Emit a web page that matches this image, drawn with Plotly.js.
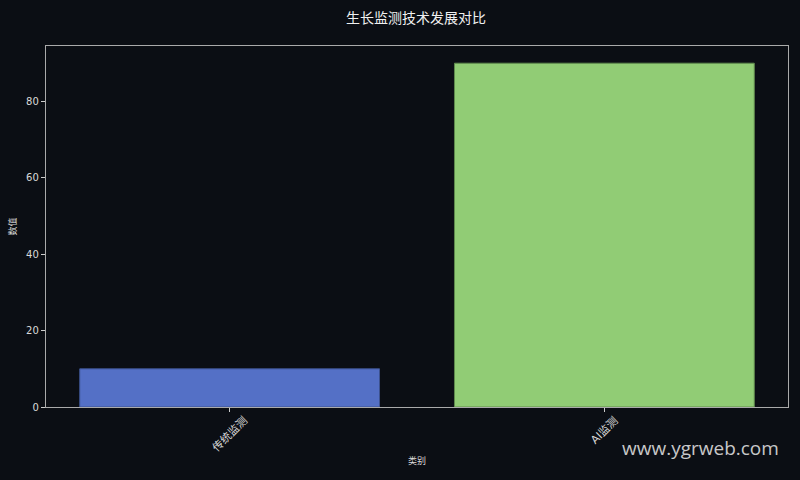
<!DOCTYPE html>
<html>
<head>
<meta charset="utf-8">
<script src="https://cdn.plot.ly/plotly-3.0.1.min.js"></script>
<style>
  html, body { margin: 0; padding: 0; background: #0b0e14; }
  #chart { width: 800px; height: 480px; }
</style>
</head>
<body>
<div id="chart"></div>
<script>
// Chart data
const categories = ["传统监测", "AI监测"];
const values = [10, 90];
const barColors = ["#5470c6", "#91cc75"];
const edgeColors = ["#3d528f", "#5f8a4d"];

const font = "DejaVu Sans, Noto Sans CJK SC, sans-serif";

const traces = [{
    x: categories,
    y: values,
    type: "bar",
    width: 0.8,
    marker: {
        color: barColors,
        line: { color: edgeColors, width: 1 }
    },
    hoverinfo: "x+y"
}];

// Category labels as rotated annotations, centred under each tick (matplotlib style)
const tickLabels = categories.map(c => ({
    text: c,
    x: c,
    xref: "x",
    yref: "paper",
    y: -0.012,
    xanchor: "center",
    yanchor: "top",
    textangle: -45,
    showarrow: false,
    font: { family: font, size: 11, color: "#d9d9d9" }
}));

const layout = {
    width: 800,
    height: 480,
    paper_bgcolor: "#0b0e14",
    plot_bgcolor: "#0b0e14",
    margin: { l: 46, r: 12, t: 46, b: 73 },
    font: { family: font, color: "#d9d9d9", size: 10 },
    title: {
        text: "生长监测技术发展对比",
        font: { family: "Noto Sans CJK SC, sans-serif", size: 14, color: "#f0f0f0" },
        x: 0.52,
        xanchor: "center",
        y: 0.962,
        yanchor: "middle"
    },
    xaxis: {
        title: { text: "类别", font: { size: 9, color: "#d9d9d9" }, standoff: 6 },
        range: [-0.49, 1.49],
        ticks: "outside",
        ticklen: 4,
        tickcolor: "#cccccc",
        showticklabels: true,
        tickfont: { size: 10, color: "rgba(0,0,0,0)" },
        tickangle: -45,
        showgrid: false,
        zeroline: false,
        showline: true,
        linecolor: "#aaaaaa",
        linewidth: 1.2,
        mirror: true
    },
    yaxis: {
        title: { text: "数值", font: { size: 9, color: "#d9d9d9" }, standoff: 8 },
        range: [0, 94.5],
        tickvals: [0, 20, 40, 60, 80],
        ticks: "outside",
        ticklen: 4,
        tickcolor: "#cccccc",
        tickfont: { size: 10, color: "#d9d9d9" },
        showgrid: false,
        zeroline: false,
        showline: true,
        linecolor: "#aaaaaa",
        linewidth: 1.2,
        mirror: true
    },
    showlegend: false,
    annotations: tickLabels.concat([{
        text: "www.ygrweb.com",
        xref: "paper", yref: "paper",
        x: 0.9906, y: -0.1136,
        xanchor: "right", yanchor: "middle",
        showarrow: false,
        font: { family: "Open Sans, sans-serif", size: 19, color: "rgba(235,235,235,0.85)" }
    }])
};

Plotly.newPlot("chart", traces, layout, { displayModeBar: false, staticPlot: true });
</script>
</body>
</html>
